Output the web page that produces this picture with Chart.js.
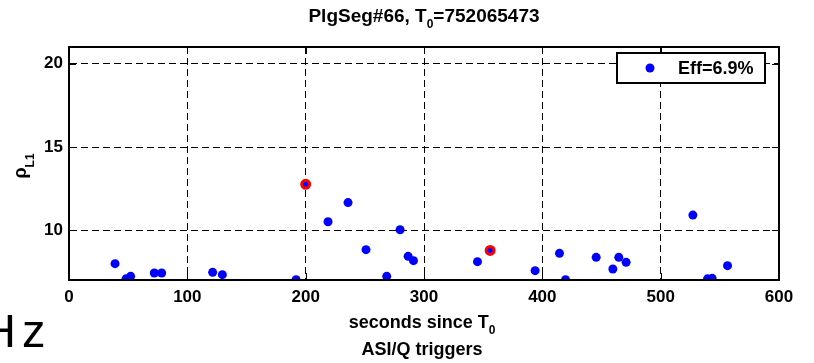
<!DOCTYPE html>
<html>
<head>
<meta charset="utf-8">
<script src="https://cdn.jsdelivr.net/npm/chart.js@4.4.0/dist/chart.umd.min.js"></script>
<style>
  html, body { margin: 0; padding: 0; background: #fff; }
  canvas { display: block; }
</style>
</head>
<body>
<canvas id="trigChart" width="814" height="363"></canvas>
<script>
// ASI/Q triggers (seconds since T0, rho_L1)
const trigTimes = [38.9, 48.2, 52.1, 72.1, 78.3, 121.4, 129.6, 191.9, 200.0, 218.9,
    235.8, 251.0, 268.5, 279.8, 286.6, 291.1, 345.2, 355.9, 393.9, 414.5,
    419.6, 445.5, 459.6, 464.6, 470.8, 527.2, 539.6, 543.5, 556.5];
const trigRho = [8.01, 7.10, 7.25, 7.45, 7.45, 7.49, 7.35, 7.05, 12.77, 10.52,
    11.67, 8.85, 7.25, 10.04, 8.45, 8.19, 8.13, 8.80, 7.59, 8.63,
    7.05, 8.39, 7.69, 8.39, 8.09, 10.92, 7.10, 7.13, 7.89];

// triggers circled in red
const hitTimes = [200.0, 355.9];
const hitRho = [12.77, 8.80];

const xTicks = [0, 100, 200, 300, 400, 500, 600];
const yTicks = [10, 15, 20];

const titleMain = 'PlgSeg#66, T';
const titleSub = '0';
const titleTail = '=752065473';
const legendLabel = 'Eff=6.9%';

const FONT = '"Liberation Sans", Arial, Helvetica, sans-serif';

function toPoints(xs, ys) {
    return xs.map((x, i) => ({ x: x, y: ys[i] }));
}

// frame, legend and labels with subscripts
const decorPlugin = {
    id: 'decor',
    afterDraw(chart) {
        const ctx = chart.ctx;
        const ca = chart.chartArea;
        const xs = chart.scales.x;
        const ys = chart.scales.y;

        ctx.save();
        ctx.strokeStyle = '#000';
        ctx.lineWidth = 1;
        ctx.setLineDash([]);
        // inner tick marks on all four sides
        ctx.beginPath();
        xTicks.forEach(v => {
            const px = Math.round(xs.getPixelForValue(v)) + 0.5;
            ctx.moveTo(px, ca.top); ctx.lineTo(px, ca.top + 7);
            ctx.moveTo(px, ca.bottom); ctx.lineTo(px, ca.bottom - 7);
        });
        yTicks.forEach(v => {
            const py = Math.round(ys.getPixelForValue(v)) + 0.5;
            ctx.moveTo(ca.left, py); ctx.lineTo(ca.left + 7, py);
            ctx.moveTo(ca.right, py); ctx.lineTo(ca.right - 7, py);
        });
        ctx.stroke();

        // box
        ctx.lineWidth = 2;
        ctx.strokeRect(ca.left, ca.top, ca.right - ca.left, ca.bottom - ca.top);

        // legend
        ctx.fillStyle = '#fff';
        ctx.fillRect(617, 53, 148, 30);
        ctx.strokeRect(617, 53, 148, 30);
        ctx.fillStyle = '#0000ff';
        ctx.beginPath();
        ctx.arc(650, 68, 4.5, 0, Math.PI * 2);
        ctx.fill();
        ctx.fillStyle = '#000';
        ctx.font = 'bold 18px ' + FONT;
        ctx.textBaseline = 'middle';
        ctx.textAlign = 'left';
        ctx.fillText(legendLabel, 678, 69);

        // title
        ctx.textBaseline = 'alphabetic';
        const big = 'bold 19px ' + FONT;
        const small = 'bold 12px ' + FONT;
        ctx.font = big;
        const w1 = ctx.measureText(titleMain).width;
        const w3 = ctx.measureText(titleTail).width;
        ctx.font = small;
        const w2 = ctx.measureText(titleSub).width;
        let tx = 424 - (w1 + w2 + w3) / 2;
        ctx.font = big;
        ctx.fillText(titleMain, tx, 22);
        ctx.font = small;
        ctx.fillText(titleSub, tx + w1, 28);
        ctx.font = big;
        ctx.fillText(titleTail, tx + w1 + w2, 22);

        // x label
        const l1 = 'seconds since T';
        ctx.font = 'bold 18px ' + FONT;
        const lw1 = ctx.measureText(l1).width;
        ctx.font = small;
        const lw2 = ctx.measureText('0').width;
        tx = 422 - (lw1 + lw2) / 2;
        ctx.font = 'bold 18px ' + FONT;
        ctx.fillText(l1, tx, 328);
        ctx.font = small;
        ctx.fillText('0', tx + lw1, 334);

        ctx.font = 'bold 18px ' + FONT;
        ctx.textAlign = 'center';
        ctx.fillText('ASI/Q triggers', 422, 355);

        // y label: rho_L1
        ctx.translate(26, 166);
        ctx.rotate(-Math.PI / 2);
        ctx.textAlign = 'left';
        ctx.font = 'bold 18px ' + FONT;
        const rw = ctx.measureText('\u03c1').width;
        ctx.font = 'bold 12px ' + FONT;
        const sw = ctx.measureText('L1').width;
        const sx = -(rw + sw) / 2;
        ctx.font = 'bold 18px ' + FONT;
        ctx.fillText('\u03c1', sx, 0);
        ctx.font = 'bold 12px ' + FONT;
        ctx.fillText('L1', sx + rw, 8);
        ctx.restore();

        // leftover text from the neighbouring panel
        ctx.save();
        ctx.fillStyle = '#000';
        ctx.font = '47px ' + FONT;
        ctx.textBaseline = 'alphabetic';
        ctx.fillText('H', -18, 347);
        ctx.fillText('z', 22, 347);
        ctx.restore();
    }
};

const chart = new Chart(document.getElementById('trigChart'), {
    type: 'scatter',
    data: {
        datasets: [{
            label: 'circled',
            data: toPoints(hitTimes, hitRho),
            backgroundColor: '#0000ff',
            borderColor: '#ff0000',
            borderWidth: 3,
            pointRadius: 4,
            clip: 0,
            order: 0
        }, {
            label: legendLabel,
            data: toPoints(trigTimes, trigRho),
            backgroundColor: '#0000ff',
            borderColor: '#0000ff',
            borderWidth: 0,
            pointRadius: 4.5,
            clip: 0,
            order: 1
        }]
    },
    options: {
        responsive: false,
        animation: false,
        devicePixelRatio: 1,
        layout: {
            padding: { left: 24, right: 35, top: 47, bottom: 53 }
        },
        plugins: {
            legend: { display: false },
            title: { display: false },
            tooltip: { enabled: false }
        },
        scales: {
            x: {
                type: 'linear',
                min: 0,
                max: 600,
                afterFit: s => { s.height = 30; },
                afterBuildTicks: s => { s.ticks = xTicks.map(v => ({ value: v })); },
                ticks: {
                    color: '#000',
                    padding: 7,
                    maxRotation: 0,
                    font: { family: FONT, size: 17, weight: 'bold' }
                },
                grid: { color: '#000', lineWidth: 1, drawTicks: false },
                border: { display: true, color: '#000', width: 2, dash: [7, 4] }
            },
            y: {
                type: 'linear',
                min: 7.03,
                max: 21,
                afterFit: s => { s.width = 45; },
                afterBuildTicks: s => { s.ticks = yTicks.map(v => ({ value: v })); },
                ticks: {
                    color: '#000',
                    padding: 6,
                    font: { family: FONT, size: 17, weight: 'bold' }
                },
                grid: { color: '#000', lineWidth: 1, drawTicks: false },
                border: { display: true, color: '#000', width: 2, dash: [7, 4] }
            }
        }
    },
    plugins: [decorPlugin]
});
</script>
</body>
</html>
